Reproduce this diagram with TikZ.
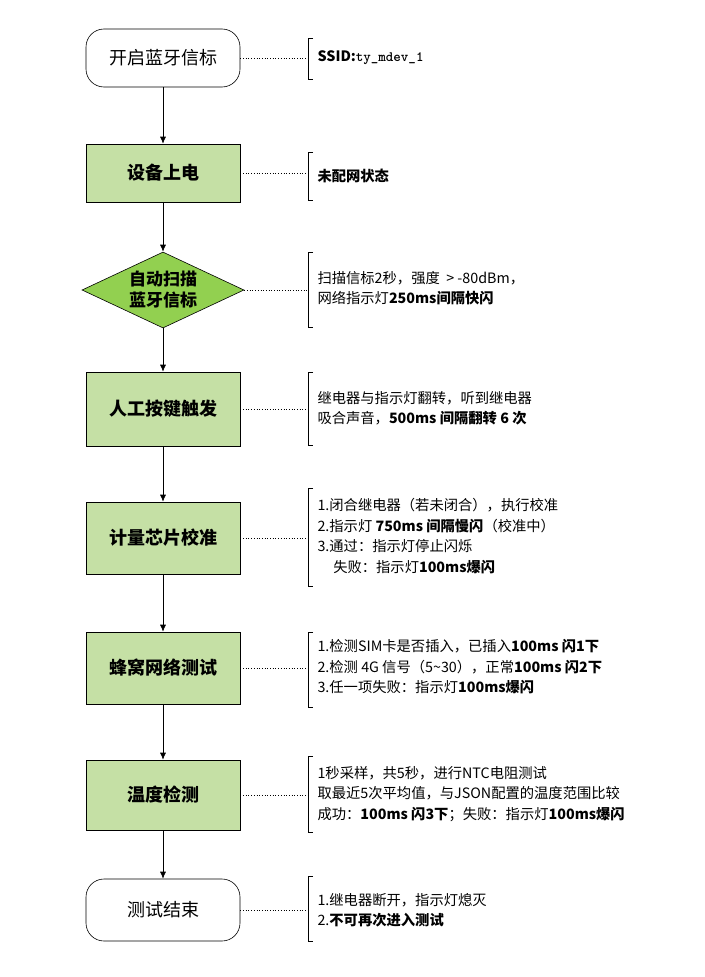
\documentclass[tikz,border=0pt]{standalone}
\usepackage{fontspec}
\setmainfont{Noto Sans CJK SC}
\usetikzlibrary{shapes.geometric,arrows.meta}
\begin{document}
\begin{tikzpicture}[x=1pt,y=-1pt,
  proc/.style={draw=black,line width=0.6pt,fill=gb,minimum width=154pt,minimum height=72pt,font=\fontsize{18}{22}\selectfont\bfseries},
  term/.style={draw=black,line width=0.6pt,rounded corners=18pt,fill=white,minimum width=154pt,minimum height=58pt,font=\fontsize{18}{22}\selectfont},
  dec/.style={draw=black,line width=0.6pt,diamond,aspect=2.13,fill=dia,minimum width=162pt,minimum height=76pt,inner sep=0pt,align=center,font=\fontsize{17}{21}\selectfont\bfseries},
  note/.style={anchor=west,align=left,font=\fontsize{14.3}{20.5}\selectfont},
  flow/.style={-{Latex[length=7pt,width=6pt]},line width=0.7pt},
  dots/.style={dotted,line width=0.7pt}]
\definecolor{gb}{HTML}{C5E0A5}
\definecolor{dia}{HTML}{92D050}
\useasboundingbox (0,0) rectangle (704,977);
\node[term] (s) at (163,58) {开启蓝牙信标};
\node[proc,minimum height=58pt] (a) at (163,173) {设备上电};
\node[dec] (b) at (163,290) {自动扫描\\蓝牙信标};
\node[proc,minimum height=74pt] (c) at (163,409) {人工按键触发};
\node[proc] (d) at (163,538) {计量芯片校准};
\node[proc] (e) at (163,668) {蜂窝网络测试};
\node[proc,minimum height=70pt] (f) at (163,795) {温度检测};
\node[term,minimum height=62pt] (g) at (163,910) {测试结束};
\foreach \u/\v in {s/a,a/b,b/c,c/d,d/e,e/f,f/g} \draw[flow] (\u) -- (\v);
\newcommand\brk[4]{%
  \coordinate (#1) at (308,#4);
  \draw[line width=0.8pt] (313,#2) -- (308,#2) -- (308,#3) -- (313,#3);}
\brk{n1}{38}{79}{58}
\brk{n2}{152}{200}{176}
\brk{n3}{252}{327}{290}
\brk{n4}{372}{445}{409}
\brk{n5}{488}{586}{537}
\brk{n6}{632}{707}{668}
\brk{n7}{756}{832}{795}
\brk{n8}{876}{941}{910}
\draw[dots] (s.east) -- (s.east -| n1);
\draw[dots] (a.east) -- (a.east -| n2);
\draw[dots] (b.east) -- (n3);
\draw[dots] (c.east) -- (n4);
\draw[dots] (d.east) -- (d.east -| n5);
\draw[dots] (e.east) -- (n6);
\draw[dots] (f.east) -- (n7);
\draw[dots] (g.east) -- (n8);
\node[note] (t1) at (314,58) {\textbf{SSID:}\texttt{\bfseries ty\_mdev\_1}};
\node[note] (t2) at (314,176) {\textbf{未配网状态}};
\node[note] (t3) at (314,288) {扫描信标2秒，强度 \ > -80dBm，\\网络指示灯\textbf{250ms间隔快闪}};
\node[note] (t4) at (314,408) {继电器与指示灯翻转，听到继电器\\吸合声音，\textbf{500ms 间隔翻转 6 次}};
\node[note] (t5) at (314,536) {1.闭合继电器（若未闭合），执行校准\\2.指示灯 \textbf{750ms 间隔慢闪}（校准中）\\3.通过：指示灯停止闪烁\\\hspace*{1.1em}失败：指示灯\textbf{100ms爆闪}};
\node[note] (t6) at (314,667) {1.检测SIM卡是否插入，已插入\textbf{100ms 闪1下}\\2.检测 4G 信号（5\textasciitilde30），正常\textbf{100ms 闪2下}\\3.任一项失败：指示灯\textbf{100ms爆闪}};
\node[note] (t7) at (314,794) {1秒采样，共5秒，进行NTC电阻测试\\取最近5次平均值，与JSON配置的温度范围比较\\成功：\textbf{100ms 闪3下}；失败：指示灯\textbf{100ms爆闪}};
\node[note] (t8) at (314,910) {1.继电器断开，指示灯熄灭\\2.\textbf{不可再次进入测试}};
\end{tikzpicture}
\end{document}
